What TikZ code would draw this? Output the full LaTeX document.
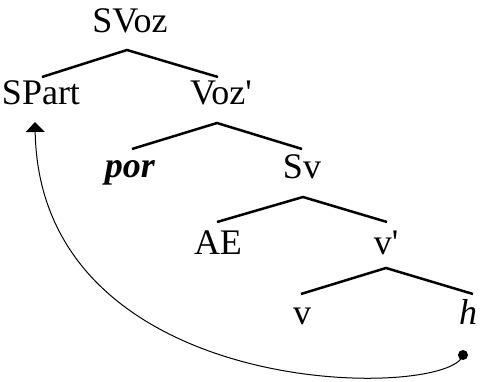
\documentclass[tikz,border=0pt]{standalone}
\usepackage{fontspec}
\setmainfont{Liberation Serif}[Ligatures=TeXOff]
\usetikzlibrary{arrows.meta}
\begin{document}
\begin{tikzpicture}[x=1pt,y=-1pt,
  lab/.style={anchor=base,inner sep=0pt,font=\fontsize{36}{42}\selectfont},
  branch/.style={line width=2.5pt,line join=miter},
  move/.style={line width=1pt,-{Triangle[width=19pt,length=10pt]}}]
\useasboundingbox (0,0) rectangle (480,382);
% labels
\node[lab] (svoz) at (130,33) {SVoz};
\node[lab] (spart) at (41,105) {SPart};
\node[lab] (voz) at (221,105) {Voz'};
\node[lab] (por) at (130,178) {\textbf{\textit{por}}};
\node[lab] (sv) at (302,179) {Sv};
\node[lab] (ae) at (218,255) {AE};
\node[lab] (vbar) at (386,255) {v'};
\node[lab] (v) at (302,325) {v};
\node[lab] (h) at (468,325) {\textit{h}};
% branch points
\coordinate (a1) at (127,50); \coordinate (l1) at (42,77); \coordinate (r1) at (218,77);
\coordinate (a2) at (217,123); \coordinate (l2) at (132,149); \coordinate (r2) at (302,149);
\coordinate (a3) at (303,197); \coordinate (l3) at (217,222); \coordinate (r3) at (387,222);
\coordinate (a4) at (386,268); \coordinate (l4) at (301,294); \coordinate (r4) at (473,294);
\draw[branch] (l1) -- (a1) -- (r1);
\draw[branch] (l2) -- (a2) -- (r2);
\draw[branch] (l3) -- (a3) -- (r3);
\draw[branch] (l4) -- (a4) -- (r4);
% movement
\node[circle,fill,inner sep=0pt,minimum size=10pt] (dot) at (463,355) {};
\coordinate (tip) at (35,122);
\draw[move] (dot.center) .. controls (452,400) and (40,405) .. (tip);
\end{tikzpicture}
\end{document}
